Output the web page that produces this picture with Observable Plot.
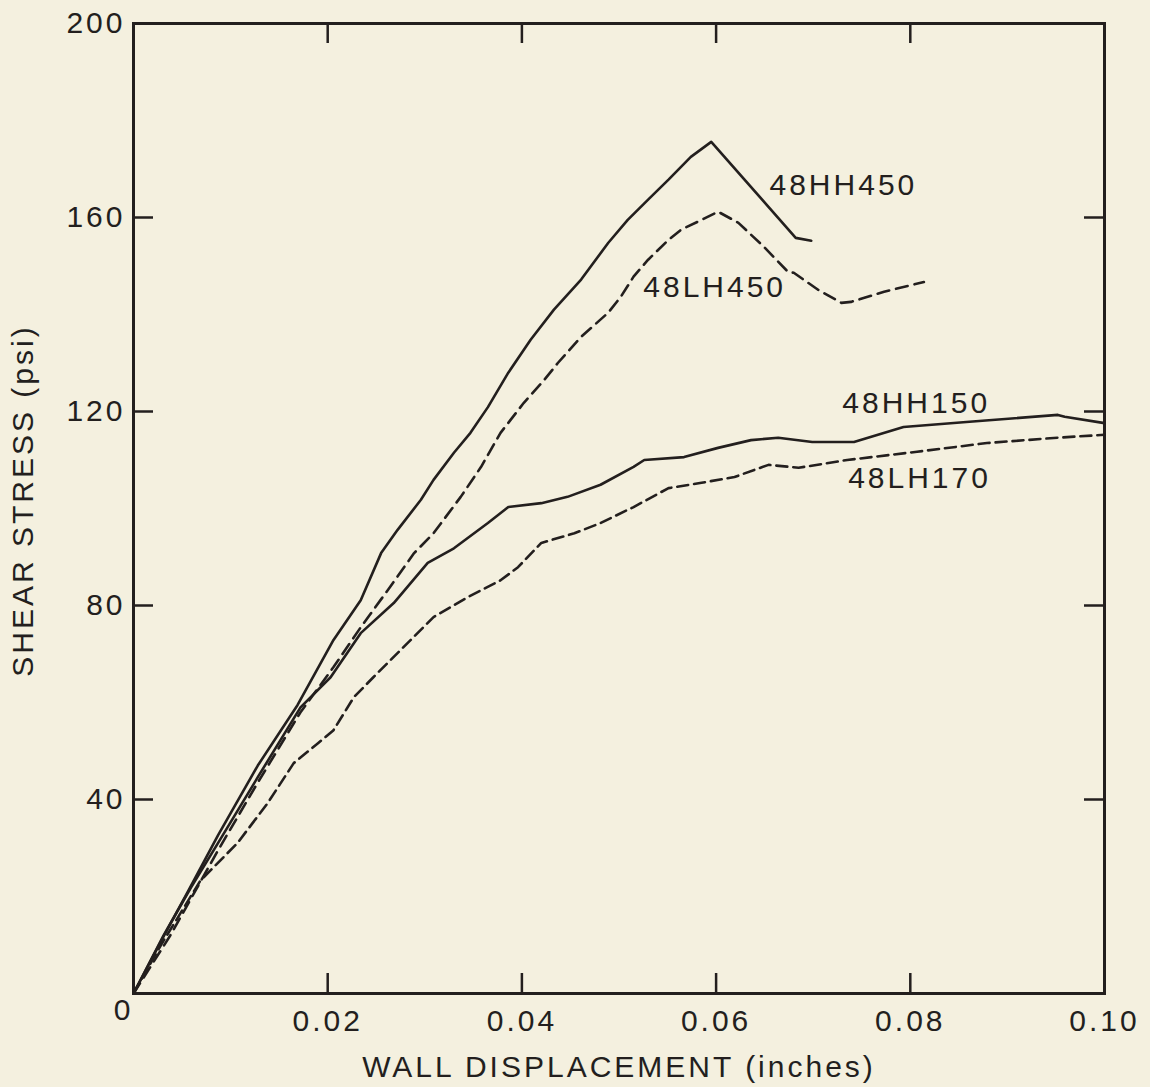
<!DOCTYPE html>
<html>
<head>
<meta charset="utf-8">
<script src="https://cdn.jsdelivr.net/npm/d3@7"></script>
<script src="https://cdn.jsdelivr.net/npm/@observablehq/plot@0.6"></script>
<style>
  html, body { margin: 0; padding: 0; background: #f4f0df; }
  #chart { width: 1150px; height: 1087px; }
</style>
</head>
<body>
<div id="chart"></div>
<script>
// ---- Data ----
const hh450 = [
  [0,0],[0.0031,11.8],[0.0056,21.0],[0.0087,32.6],[0.0128,47.0],[0.0169,59.5],
  [0.0206,72.9],[0.0234,81.1],[0.0255,90.8],[0.0272,95.6],[0.0296,101.8],
  [0.0309,105.9],[0.0330,111.5],[0.0347,115.6],[0.0365,120.9],[0.0386,128.0],
  [0.0409,134.8],[0.0433,141.0],[0.0461,147.2],[0.0489,154.8],[0.0509,159.5],
  [0.0530,163.7],[0.0551,167.8],[0.0574,172.5],[0.0595,175.6],[0.0682,155.8],[0.0698,155.2]
];
const lh450 = [
  [0,0],[0.0038,12.0],[0.0087,29.5],[0.0128,43.5],[0.0172,58.0],[0.0206,67.3],
  [0.0234,75.5],[0.0262,83.2],[0.0289,90.8],[0.0309,94.9],[0.0337,102.4],
  [0.0358,108.6],[0.0378,115.6],[0.0402,121.8],[0.0423,126.5],[0.0437,130.0],
  [0.0461,135.4],[0.0489,140.4],[0.0502,143.7],[0.0515,147.8],[0.0530,151.3],
  [0.0551,155.4],[0.0564,157.5],[0.0585,159.5],[0.0602,161.2],[0.0623,158.9],
  [0.0649,154.0],[0.0674,148.8],[0.0680,148.6],[0.0705,145.1],[0.0729,142.4],
  [0.0739,142.6],[0.0773,144.7],[0.0814,146.7]
];
const hh150 = [
  [0,0],[0.0031,12.0],[0.0059,21.8],[0.0087,31.0],[0.0128,44.6],[0.0172,59.0],
  [0.0203,65.2],[0.0234,74.3],[0.0268,80.5],[0.0303,88.8],[0.0330,91.8],
  [0.0365,97.0],[0.0386,100.3],[0.0420,101.1],[0.0447,102.4],[0.0481,104.9],
  [0.0515,108.6],[0.0526,110.0],[0.0567,110.6],[0.0602,112.5],[0.0636,114.1],
  [0.0664,114.6],[0.0699,113.7],[0.0742,113.7],[0.0793,116.8],[0.0861,117.9],
  [0.0952,119.3],[0.0959,118.9],[0.1000,117.6]
];
const lh170 = [
  [0,0],[0.0028,9.9],[0.0069,23.3],[0.0107,31.0],[0.0138,39.2],[0.0165,47.5],
  [0.0190,51.6],[0.0206,54.3],[0.0227,61.1],[0.0247,65.2],[0.0275,70.8],
  [0.0309,77.6],[0.0344,81.7],[0.0378,85.2],[0.0396,87.9],[0.0420,92.9],
  [0.0454,94.9],[0.0481,97.0],[0.0515,100.3],[0.0551,104.2],[0.0585,105.3],
  [0.0619,106.5],[0.0654,109.0],[0.0685,108.4],[0.0735,110.0],[0.0807,111.7],
  [0.0879,113.5],[0.0952,114.6],[0.1000,115.2]
];
const seriesNames = ["48HH450", "48LH450", "48HH150", "48LH170"];
const labelX = [0.0655, 0.0525, 0.0730, 0.0736];
const labelY = [166.6, 145.5, 121.6, 106.3];
const xTicks = [0.02, 0.04, 0.06, 0.08, 0.10];
const yTicks = [40, 80, 120, 160, 200];
const xTitle = "WALL DISPLACEMENT (inches)";
const yTitle = "SHEAR STRESS (psi)";

// ---- Build tables ----
const ink = "#231f1e";
const toRows = (arr, name) => arr.map(([x, y]) => ({x, y, name}));
const solidRows = [...toRows(hh450, "48HH450"), ...toRows(hh150, "48HH150")];
const lh450Rows = toRows(lh450, "48LH450");
const lh170Rows = toRows(lh170, "48LH170");
const labels = seriesNames.map((name, i) => ({name, x: labelX[i], y: labelY[i]}));

const tickPx = 20;
const xTickLen = 200 * tickPx / 970;   // in y units
const yTickLen = 0.10 * tickPx / 971;  // in x units

const chart = Plot.plot({
  width: 1150,
  height: 1087,
  marginLeft: 133,
  marginRight: 46,
  marginTop: 23,
  marginBottom: 94,
  x: {domain: [0, 0.10], label: null},
  y: {domain: [0, 200], label: null},
  style: {
    background: "#f4f0df",
    fontFamily: "'Liberation Sans', Arial, Helvetica, sans-serif",
    fontSize: "30px",
    letterSpacing: "3px",
    color: ink
  },
  marks: [
    Plot.axisX(xTicks, {tickSize: 0, tickPadding: 16, tickFormat: d3.format(".2f"), fill: ink, fontSize: 30, label: null}),
    Plot.axisY(yTicks, {tickSize: 0, tickPadding: 8, fill: ink, fontSize: 30, label: null}),
    Plot.text([0], {x: 0, y: 0, text: () => "0", textAnchor: "middle", dx: -10, dy: 17, fill: ink, fontSize: 30}),
    // inward ticks
    Plot.ruleX(xTicks, {x: d => d, y1: 0, y2: xTickLen, stroke: ink, strokeWidth: 2.5}),
    Plot.ruleX(xTicks, {x: d => d, y1: 200 - xTickLen, y2: 200, stroke: ink, strokeWidth: 2.5}),
    Plot.ruleY(yTicks, {y: d => d, x1: 0, x2: yTickLen, stroke: ink, strokeWidth: 2.5}),
    Plot.ruleY(yTicks, {y: d => d, x1: 0.10 - yTickLen, x2: 0.10, stroke: ink, strokeWidth: 2.5}),
    Plot.frame({stroke: ink, strokeWidth: 3}),
    // curves
    Plot.line(solidRows, {x: "x", y: "y", z: "name", stroke: ink, strokeWidth: 2.6, strokeLinejoin: "round"}),
    Plot.line(lh450Rows, {x: "x", y: "y", stroke: ink, strokeWidth: 2.6, strokeDasharray: "12,7"}),
    Plot.line(lh170Rows, {x: "x", y: "y", stroke: ink, strokeWidth: 2.6, strokeDasharray: "11,6"}),
    // series labels
    Plot.text(labels, {x: "x", y: "y", text: "name", textAnchor: "start", lineAnchor: "middle", fill: ink, fontSize: 30}),
    // axis titles
    Plot.text([xTitle], {frameAnchor: "bottom", dy: 74, textAnchor: "middle", lineAnchor: "middle", fill: ink, fontSize: 30}),
    Plot.text([yTitle], {frameAnchor: "left", dx: -110, dy: -8, rotate: -90, textAnchor: "middle", lineAnchor: "middle", fill: ink, fontSize: 30})
  ]
});
document.getElementById("chart").appendChild(chart);
</script>
</body>
</html>
